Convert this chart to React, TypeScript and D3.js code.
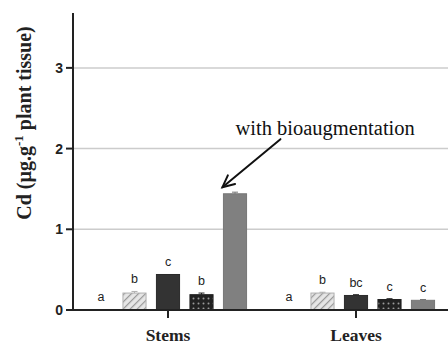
import * as d3 from "d3";
import React from "react";

const groups = ["Stems", "Leaves"];
const treatments = ["T1", "T2", "T3", "T4", "T5"];

const stemValues = [0.01, 0.21, 0.44, 0.19, 1.44];
const stemErrors = [0, 0.02, 0, 0.02, 0.02];
const stemLetters = ["a", "b", "c", "b", ""];

const leafValues = [0.01, 0.21, 0.18, 0.13, 0.12];
const leafErrors = [0, 0.01, 0.01, 0.01, 0.01];
const leafLetters = ["a", "b", "bc", "c", "c"];

const yTicks = [0, 1, 2, 3];
const gridTicks = [1, 2, 3];

const W = 448;
const H = 345;
const serif = "'Liberation Serif', 'Times New Roman', serif";
const sans = "'Liberation Sans', Arial, sans-serif";

const fills = ["#ffffff", "url(#hatch)", "#333333", "url(#dots)", "#808080"];
const strokes = ["#ffffff", "#b0b0b0", "#2a2a2a", "#222", "#777"];

const App: React.FC = () => {
  const yScale = d3.scaleLinear().domain([0, 3.68]).range([310, 13]);
  const xGroup = d3.scaleBand().domain(groups).range([74, 450]).padding(0);
  const xInner = d3
    .scaleBand()
    .domain(treatments)
    .range([-83.75, 83.75])
    .paddingInner(0.31)
    .paddingOuter(0.155);
  const bw = xInner.bandwidth();
  const x0 = 73;
  const y0 = yScale(0);

  const rows = groups.map((g, gi) => ({
    g,
    values: gi === 0 ? stemValues : leafValues,
    errors: gi === 0 ? stemErrors : leafErrors,
    letters: gi === 0 ? stemLetters : leafLetters,
  }));

  // arrow target: last stems bar
  const tipX = xGroup("Stems")! + xGroup.bandwidth() / 2 + xInner("T5")! - 1;
  const tipY = yScale(stemValues[4] + stemErrors[4]) - 5;
  const tailX = tipX + 58;
  const tailY = tipY - 48;
  const ang = Math.atan2(tipY - tailY, tipX - tailX);
  const head = 13;
  const spread = 0.45;

  return (
    <svg width={W} height={H} style={{ position: "absolute", left: 0, top: 0, background: "#fff" }}>
      <defs>
        <pattern id="hatch" width="5" height="5" patternUnits="userSpaceOnUse" patternTransform="rotate(45)">
          <rect width="5" height="5" fill="#e6e6e6" />
          <line x1="0" y1="0" x2="0" y2="5" stroke="#9a9a9a" strokeWidth="2.4" />
        </pattern>
        <pattern id="dots" width="5" height="5" patternUnits="userSpaceOnUse" x="1" y="1">
          <rect width="5" height="5" fill="#222" />
          <circle cx="2.5" cy="2.5" r="1" fill="#9a9a9a" />
        </pattern>
      </defs>

      {gridTicks.map((t) => (
        <line key={t} x1={x0} x2={W} y1={yScale(t)} y2={yScale(t)} stroke="#cccccc" strokeWidth={1.5} />
      ))}

      {rows.map((r) => {
        const cx = xGroup(r.g)! + xGroup.bandwidth() / 2;
        return (
          <g key={r.g}>
            {treatments.map((t, i) => {
              const bx = cx + xInner(t)!;
              const top = yScale(r.values[i]);
              const errTop = yScale(r.values[i] + r.errors[i]);
              return (
                <g key={t}>
                  <rect x={bx} y={top} width={bw} height={y0 - top} fill={fills[i]} stroke={strokes[i]} strokeWidth={1} />
                  {r.errors[i] > 0 && (
                    <g stroke={strokes[i]} strokeWidth={1}>
                      <line x1={bx + bw / 2} x2={bx + bw / 2} y1={top} y2={errTop} />
                      <line x1={bx + bw / 2 - 3} x2={bx + bw / 2 + 3} y1={errTop} y2={errTop} />
                    </g>
                  )}
                  {r.letters[i] && (
                    <text x={bx + bw / 2} y={errTop - 8} textAnchor="middle" fontFamily={sans} fontSize={12.5} fill="#222">
                      {r.letters[i]}
                    </text>
                  )}
                </g>
              );
            })}
            <line x1={cx} x2={cx} y1={y0} y2={y0 + 8} stroke="#222" strokeWidth={2} />
            <text x={cx} y={341} textAnchor="middle" fontFamily={serif} fontWeight="bold" fontSize={17.5} fill="#222">
              {r.g}
            </text>
          </g>
        );
      })}

      {/* axes */}
      <line x1={x0} x2={x0} y1={yScale(3.68)} y2={y0} stroke="#222" strokeWidth={2} />
      <line x1={x0 - 7} x2={W} y1={y0} y2={y0} stroke="#222" strokeWidth={2} />
      {yTicks.map((t) => (
        <g key={t}>
          <line x1={x0 - 7} x2={x0} y1={yScale(t)} y2={yScale(t)} stroke="#222" strokeWidth={2} />
          <text x={63} y={yScale(t) + 5} textAnchor="end" fontFamily={sans} fontWeight="bold" fontSize={14} fill="#222">
            {t}
          </text>
        </g>
      ))}

      <text transform="translate(31,123) rotate(-90)" textAnchor="middle" fontFamily={serif} fontWeight="bold" fontSize={20} fill="#222">
        Cd (µg.g
        <tspan dy={-8} fontSize={13}>-1</tspan>
        <tspan dy={8}> plant tissue)</tspan>
      </text>

      {/* annotation */}
      <text x={tipX + 13} y={tipY - 52} fontFamily={serif} fontSize={20.5} fill="#111">
        with bioaugmentation
      </text>
      <g stroke="#111" strokeWidth={2} fill="none" strokeLinecap="round">
        <line x1={tailX} y1={tailY} x2={tipX} y2={tipY} />
        <polyline
          points={`${tipX - head * Math.cos(ang - spread)},${tipY - head * Math.sin(ang - spread)} ${tipX},${tipY} ${
            tipX - head * Math.cos(ang + spread)
          },${tipY - head * Math.sin(ang + spread)}`}
        />
      </g>
    </svg>
  );
};

export default App;
